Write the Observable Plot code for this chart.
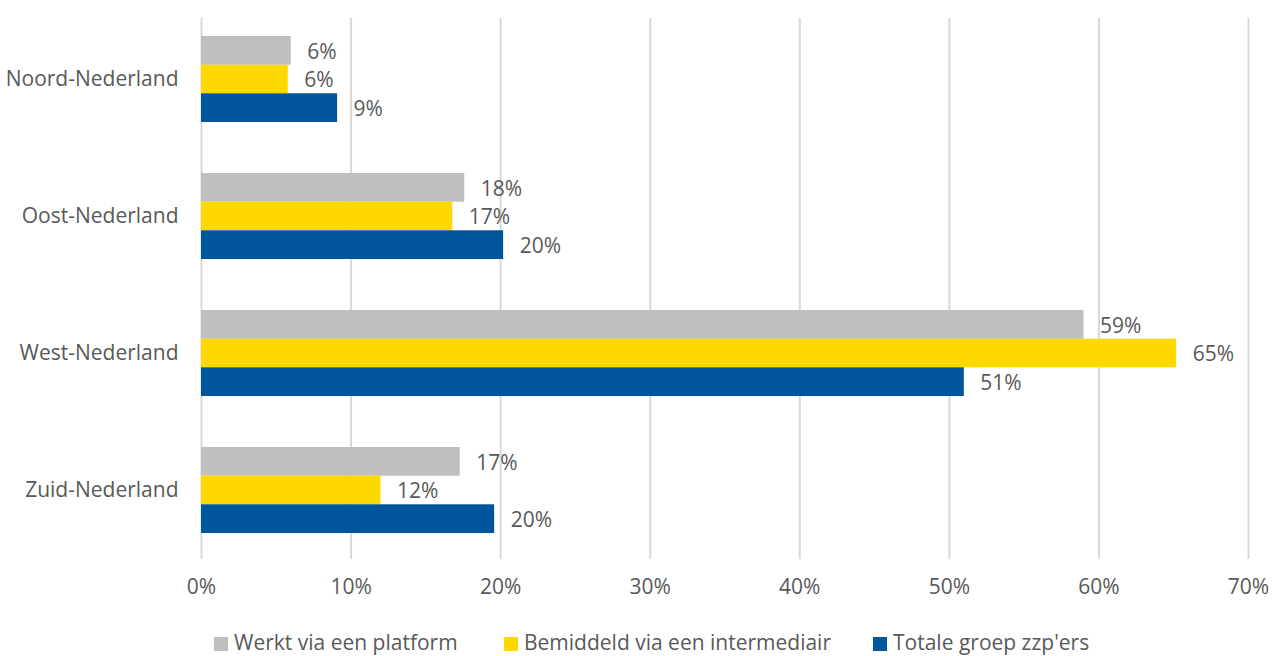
<!DOCTYPE html>
<html>
<head>
<meta charset="utf-8">
<script src="https://cdn.jsdelivr.net/npm/d3@7"></script>
<script src="https://cdn.jsdelivr.net/npm/@observablehq/plot@0.6"></script>
<style>
  html, body { margin: 0; padding: 0; background: #fff; }
  #wrap { position: relative; width: 1286px; height: 656px; font-family: "Open Sans", "Noto Sans", sans-serif; color: #595959; }
  #legend { position: absolute; top: 626px; left: 0; width: 1286px; height: 32px; }
  .item { position: absolute; top: 0; height: 32px; display: flex; align-items: center; font-size: 21px; white-space: nowrap; }
  .sw { width: 14px; height: 14px; margin-right: 6px; flex: none; position: relative; top: 2px; }
</style>
</head>
<body>
<div id="wrap"><div id="chart"></div><div id="legend"></div></div>
<script>
const regions = ["Noord-Nederland", "Oost-Nederland", "West-Nederland", "Zuid-Nederland"];
const series = ["Werkt via een platform", "Bemiddeld via een intermediair", "Totale groep zzp'ers"];
const colors = ["#BFBFBF", "#FFD800", "#00569C"];
const platform = [6.0, 17.6, 59.0, 17.3];
const intermediair = [5.8, 16.8, 65.2, 12.0];
const totaal = [9.1, 20.2, 51.0, 19.6];
const xTicks = [0, 10, 20, 30, 40, 50, 60, 70];

const valuesBySeries = [platform, intermediair, totaal];
const rows = [];
series.forEach((s, i) => regions.forEach((r, j) => rows.push({region: r, series: s, si: i, value: valuesBySeries[i][j]})));

const height = 620, marginTop = 9, marginBottom = 61;
const plotH = height - marginTop - marginBottom;
const pInner = 0.375, pOuter = 0.1875;
const bw = plotH / regions.length * (1 - pInner);
const t = bw / 3;

const marks = [
  Plot.gridX(xTicks, {stroke: "#D9D9D9", strokeOpacity: 1, strokeWidth: 2, insetTop: 9})
];
series.forEach((s, i) => {
  const d = rows.filter(r => r.si === i);
  marks.push(Plot.barX(d, {x: "value", y: "region", fill: colors[i], insetTop: i * t, insetBottom: (2 - i) * t}));
  marks.push(Plot.text(d, {x: "value", y: "region", text: r => Math.round(r.value) + "%", dx: 16, dy: (i - 1) * t + 1, textAnchor: "start", fill: "#595959", fontSize: 21}));
});

const chart = Plot.plot({
  width: 1286,
  height,
  marginTop,
  marginBottom,
  marginLeft: 201,
  marginRight: 38,
  style: {fontFamily: "'Open Sans', 'Noto Sans', sans-serif", fontSize: "21px", color: "#595959", background: "#fff"},
  x: {domain: [0, 70], ticks: xTicks, tickFormat: d => d + "%", tickSize: 0, tickPadding: 20, label: null},
  y: {domain: regions, paddingInner: pInner, paddingOuter: pOuter, tickSize: 0, tickPadding: 23, label: null},
  marks
});
document.getElementById("chart").appendChild(chart);

const lefts = [214, 504, 873];
const legend = document.getElementById("legend");
series.forEach((s, i) => {
  const it = document.createElement("div");
  it.className = "item";
  it.style.left = lefts[i] + "px";
  const sw = document.createElement("div");
  sw.className = "sw";
  sw.style.background = colors[i];
  const tx = document.createElement("span");
  tx.textContent = s;
  it.appendChild(sw); it.appendChild(tx);
  legend.appendChild(it);
});
</script>
</body>
</html>
